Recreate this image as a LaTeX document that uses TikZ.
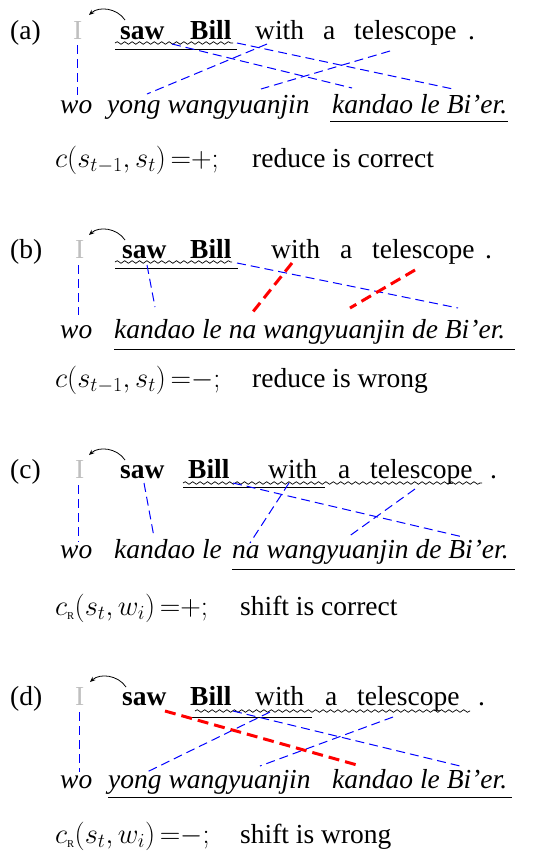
\RequirePackage{fix-cm}
\documentclass[tikz,border=0pt]{standalone}
\usepackage[no-math]{fontspec}
\setmainfont{Liberation Serif}
\usetikzlibrary{decorations.pathmorphing,arrows.meta}
\newcommand{\subR}{\mbox{\fontsize{10.5pt}{11pt}\selectfont R}}
\tikzset{
  w/.style={inner sep=0pt,anchor=base west,font=\fontsize{27.5pt}{30pt}\selectfont},
  wb/.style={w,font=\fontsize{27.5pt}{30pt}\selectfont\bfseries},
  wi/.style={w,font=\fontsize{27.5pt}{30pt}\selectfont\itshape},
  wm/.style={w,font=\fontsize{28.5pt}{30pt}\selectfont},
  wg/.style={w,text=black!25},
  bdash/.style={draw=blue,line width=1pt,dash pattern=on 9pt off 5pt},
  rdash/.style={draw=red,line width=3pt,dash pattern=on 11pt off 6pt},
  uline/.style={draw=black,line width=1pt},
  wavy/.style={draw=black,line width=0.7pt,decorate,decoration={snake,amplitude=1.3pt,segment length=7.4pt}},
  arc/.style={draw=black,line width=0.8pt,-{Stealth[length=5.5pt,width=4.5pt]}}
}
\begin{document}
\begin{tikzpicture}[x=1pt,y=-1pt]
\useasboundingbox (0,0) rectangle (534,852);
% ---------------- (a)
\node[w] (la) at (10,39) {(a)};
\node[wg] (Ia) at (73,39) {I};
\node[wb] (sawa) at (120,39) {saw};
\node[wb] (billa) at (190,39) {Bill};
\node[w] (witha) at (255,39) {with};
\node[w] (aa) at (323,39) {a};
\node[w] (tela) at (354,39) {telescope};
\node[w] (dota) at (468,39) {.};
\node[wi] (woa) at (60,113) {wo};
\node[wi] (yonga) at (107,113) {yong wangyuanjin};
\node[wi] (kana) at (332,113) {kandao le Bi’er.};
\node[wm] (fa) at (55,167) {$c(s_{t-1},s_t)\,{=}{+};$};
\node[w] (ta) at (252,167) {reduce is correct};
\coordinate (arsa) at (125,20); \coordinate (area) at (89,15);
\draw[arc] (arsa) .. controls (117,8) and (99,6) .. (area);
\draw[wavy] (115,43) -- (233,43);
\draw[uline] (115,49) -- (237,49);
\draw[uline] (330,121) -- (508,121);
\coordinate (a1s) at (77,45);  \coordinate (a1e) at (77,95);
\coordinate (a2s) at (267,44); \coordinate (a2e) at (147,94);
\coordinate (a3s) at (390,51); \coordinate (a3e) at (261,89);
\coordinate (a4s) at (172,44); \coordinate (a4e) at (352,88);
\coordinate (a5s) at (237,43); \coordinate (a5e) at (453,89);
\draw[bdash] (a1s) -- (a1e);
\draw[bdash] (a2s) -- (a2e);
\draw[bdash] (a3s) -- (a3e);
\draw[bdash] (a4s) -- (a4e);
\draw[bdash] (a5s) -- (a5e);
% ---------------- (b)
\node[w] (lb) at (10,258) {(b)};
\node[wg] (Ib) at (75,258) {I};
\node[wb] (sawb) at (122,258) {saw};
\node[wb] (billb) at (190,258) {Bill};
\node[w] (withb) at (271,258) {with};
\node[w] (ab) at (340,258) {a};
\node[w] (telb) at (372,258) {telescope};
\node[w] (dotb) at (485,258) {.};
\node[wi] (wob) at (60,338) {wo};
\node[wi] (kanb) at (114,338) {kandao le na wangyuanjin de Bi’er.};
\node[wm] (fb) at (55,387) {$c(s_{t-1},s_t)\,{=}{-};$};
\node[w] (tb) at (252,387) {reduce is wrong};
\coordinate (arsb) at (125,240); \coordinate (areb) at (89,235);
\draw[arc] (arsb) .. controls (117,228) and (99,226) .. (areb);
\draw[wavy] (115,262) -- (232,262);
\draw[uline] (115,268) -- (238,268);
\draw[uline] (114,349) -- (515,349);
\coordinate (b1s) at (78,265);  \coordinate (b1e) at (78,315);
\coordinate (b2s) at (147,265); \coordinate (b2e) at (155,307);
\coordinate (b3s) at (237,263); \coordinate (b3e) at (458,308);
\coordinate (b4s) at (292,263); \coordinate (b4e) at (252,313);
\coordinate (b5s) at (415,270); \coordinate (b5e) at (350,308);
\draw[bdash] (b1s) -- (b1e);
\draw[bdash] (b2s) -- (b2e);
\draw[bdash] (b3s) -- (b3e);
\draw[rdash] (b4s) -- (b4e);
\draw[rdash] (b5s) -- (b5e);
% ---------------- (c)
\node[w] (lc) at (10,478) {(c)};
\node[wg] (Ic) at (75,478) {I};
\node[wb] (sawc) at (120,478) {saw};
\node[wb] (billc) at (188,478) {Bill};
\node[w] (withc) at (268,478) {with};
\node[w] (ac) at (338,478) {a};
\node[w] (telc) at (370,478) {telescope};
\node[w] (dotc) at (490,478) {.};
\node[wi] (woc) at (60,558) {wo};
\node[wi] (kanc) at (114,558) {kandao le};
\node[wi] (nac) at (232,558) {na wangyuanjin de Bi’er.};
\node[wm] (fc) at (55,615) {$c_{\subR}(s_t,w_i)\,{=}{+};$};
\node[w] (tc) at (240,615) {shift is correct};
\coordinate (arsc) at (125,460); \coordinate (arec) at (89,455);
\draw[arc] (arsc) .. controls (117,448) and (99,446) .. (arec);
\draw[wavy] (183,483) -- (482,483);
\draw[uline] (183,487) -- (325,487);
\draw[uline] (232,569) -- (515,569);
\coordinate (c1s) at (78,485);  \coordinate (c1e) at (78,542);
\coordinate (c2s) at (144,483); \coordinate (c2e) at (154,537);
\coordinate (c3s) at (233,483); \coordinate (c3e) at (463,537);
\coordinate (c4s) at (289,483); \coordinate (c4e) at (250,543);
\coordinate (c5s) at (415,489); \coordinate (c5e) at (348,537);
\draw[bdash] (c1s) -- (c1e);
\draw[bdash] (c2s) -- (c2e);
\draw[bdash] (c3s) -- (c3e);
\draw[bdash] (c4s) -- (c4e);
\draw[bdash] (c5s) -- (c5e);
% ---------------- (d)
\node[w] (ld) at (10,705) {(d)};
\node[wg] (Id) at (75,705) {I};
\node[wb] (sawd) at (122,705) {saw};
\node[wb] (billd) at (190,705) {Bill};
\node[w] (withd) at (255,705) {with};
\node[w] (ad) at (325,705) {a};
\node[w] (teld) at (357,705) {telescope};
\node[w] (dotd) at (478,705) {.};
\node[wi] (wod) at (60,788) {wo};
\node[wi] (yongd) at (108,788) {yong wangyuanjin};
\node[wi] (kand) at (332,788) {kandao le Bi’er.};
\node[wm] (fd) at (55,843) {$c_{\subR}(s_t,w_i)\,{=}{-};$};
\node[w] (td) at (240,843) {shift is wrong};
\coordinate (arsd) at (126,687); \coordinate (ared) at (90,682);
\draw[arc] (arsd) .. controls (118,675) and (100,673) .. (ared);
\draw[wavy] (195,711) -- (470,711);
\draw[uline] (192,717) -- (312,717);
\draw[uline] (108,797) -- (512,797);
\coordinate (d1s) at (79,712);  \coordinate (d1e) at (79,772);
\coordinate (d2s) at (233,711); \coordinate (d2e) at (460,766);
\coordinate (d3s) at (270,712); \coordinate (d3e) at (147,772);
\coordinate (d4s) at (393,717); \coordinate (d4e) at (260,766);
\coordinate (d5s) at (165,711); \coordinate (d5e) at (357,765);
\draw[bdash] (d1s) -- (d1e);
\draw[bdash] (d2s) -- (d2e);
\draw[bdash] (d3s) -- (d3e);
\draw[bdash] (d4s) -- (d4e);
\draw[rdash] (d5s) -- (d5e);
\end{tikzpicture}
\end{document}
